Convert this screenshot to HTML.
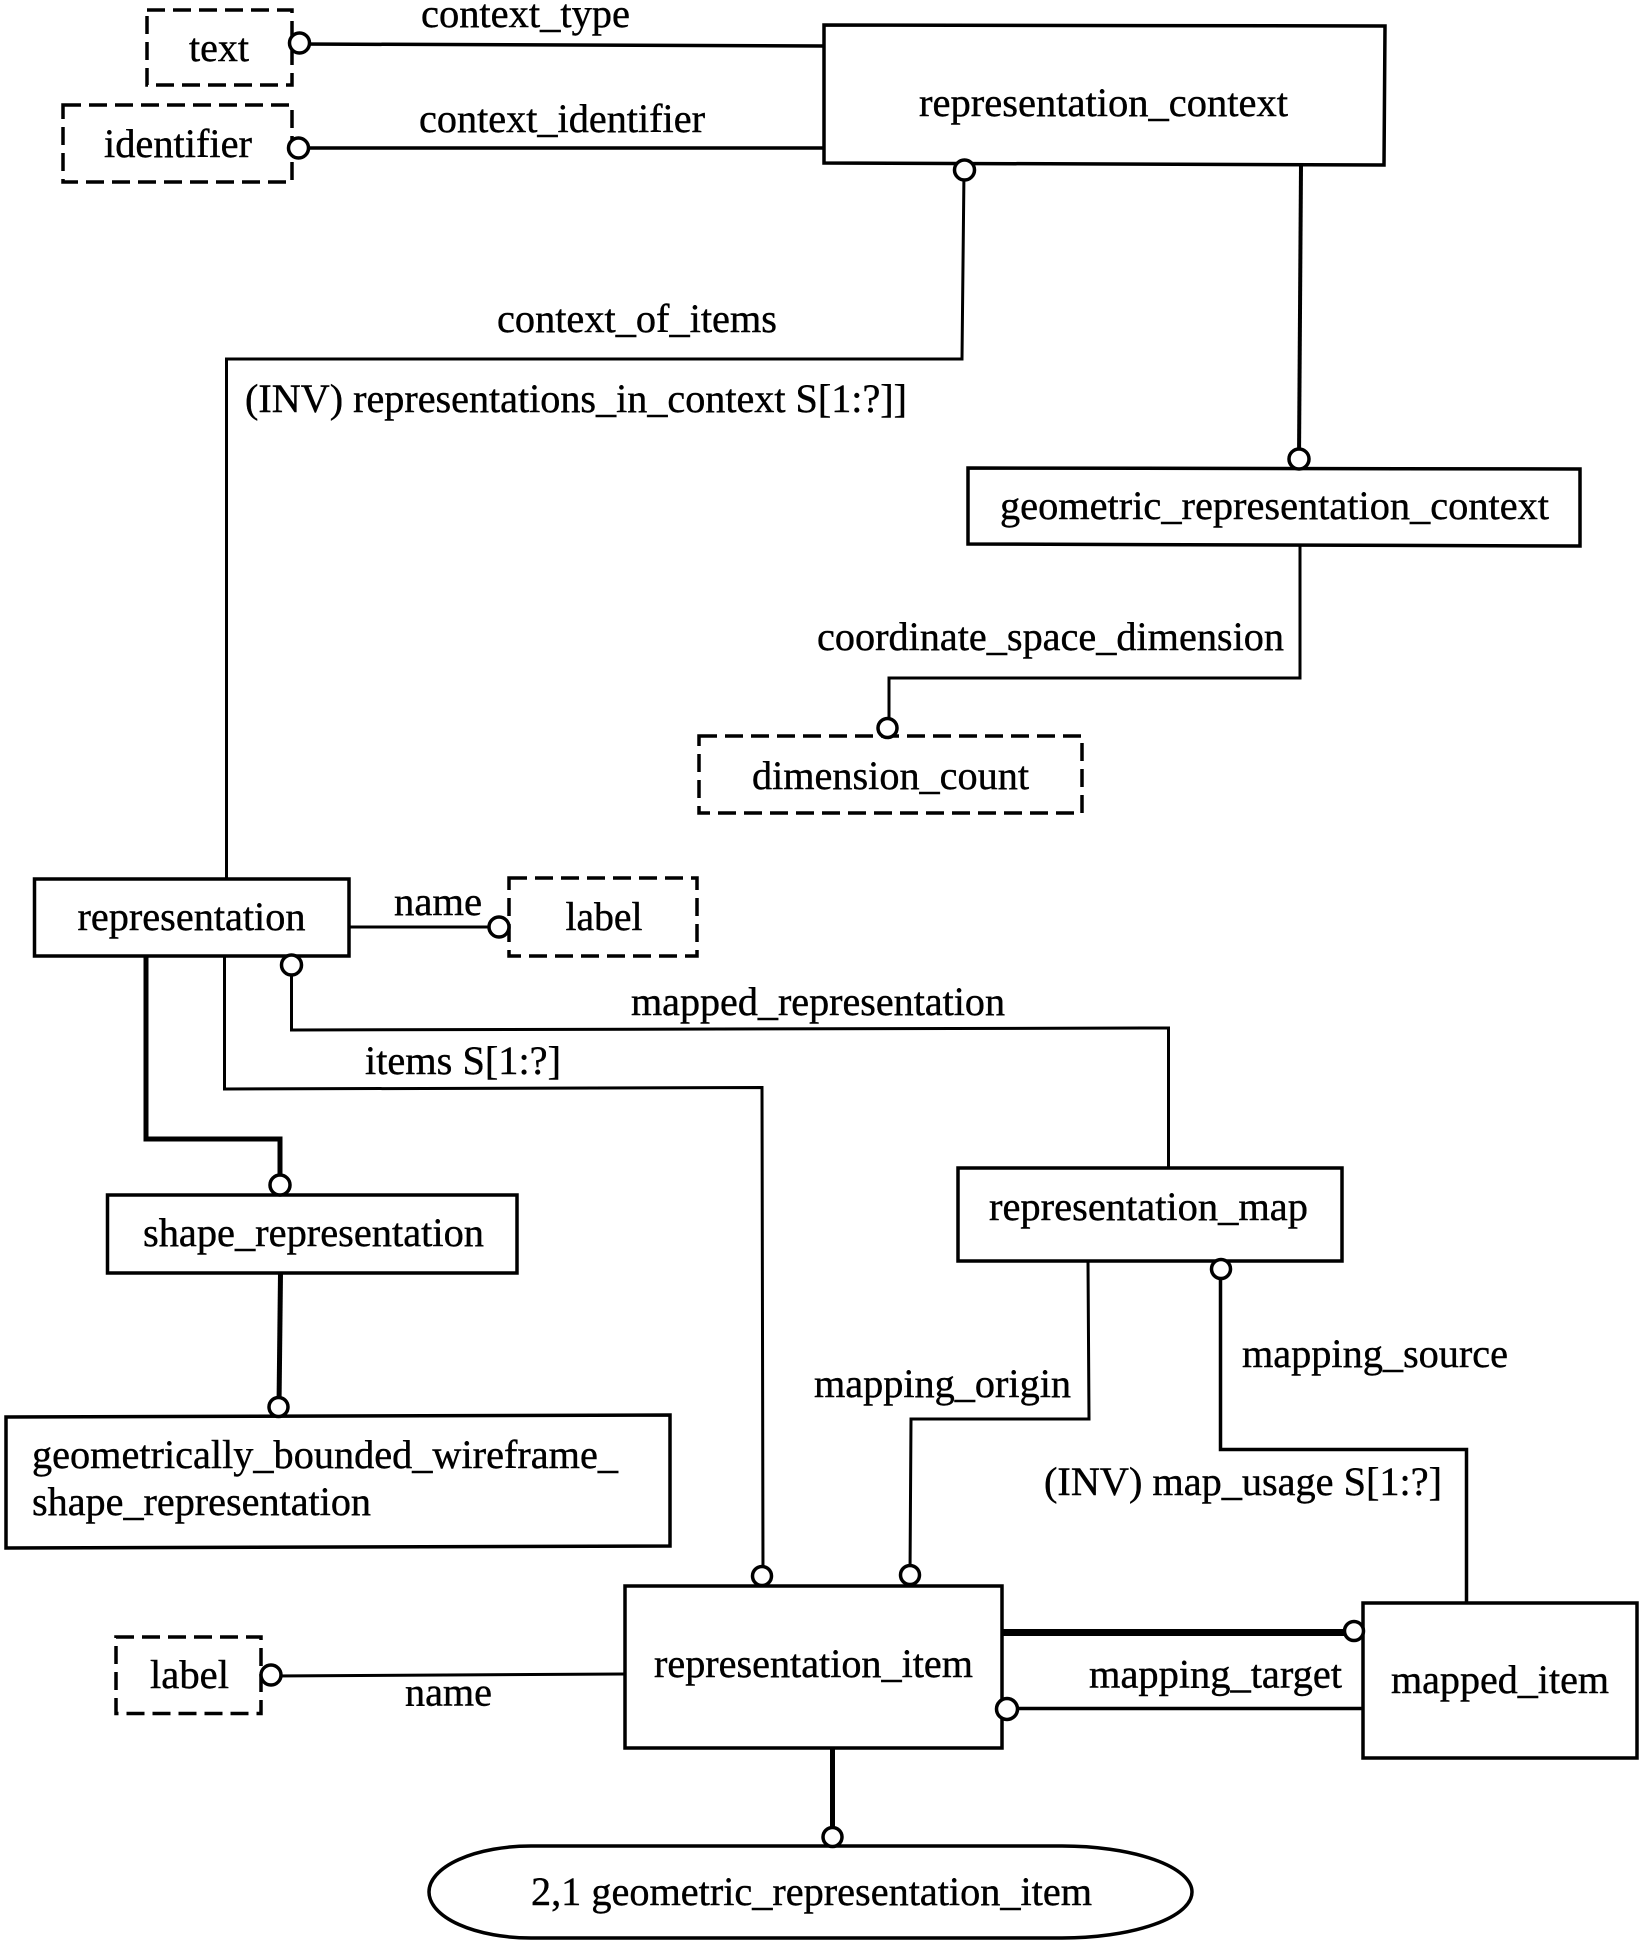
<!DOCTYPE html>
<html><head><meta charset="utf-8"><style>
html,body{margin:0;padding:0;background:#fff}
svg{display:block}
text{font-family:"Liberation Serif",serif;font-size:40px;fill:#000;stroke:#000;stroke-width:.4}
.b{fill:#fff;stroke:#000;stroke-width:3.5}
.d{fill:#fff;stroke:#000;stroke-width:3.5;stroke-dasharray:18 8}
.l{fill:none;stroke:#000;stroke-width:3}
.t{fill:none;stroke:#000;stroke-width:5}
.c{fill:#fff;stroke:#000;stroke-width:3.5}
</style></head><body>
<svg width="1642" height="1942" viewBox="0 0 1642 1942" xmlns="http://www.w3.org/2000/svg">
<rect width="1642" height="1942" fill="#fff"/>
<!-- connectors -->
<path class="l" style="stroke-width:3.5" d="M299 44 L824 46"/>
<path class="l" style="stroke-width:3.5" d="M299 148 H824"/>
<path class="l" d="M964 170 L962 359 H226.5 V879"/>
<path class="l" style="stroke-width:4" d="M1301 165 L1299 459"/>
<path class="l" d="M1300 545 V678 H889 V728"/>
<path class="l" d="M349 927 H499"/>
<path class="l" d="M291.5 965 V1030 L1168.5 1028 V1168"/>
<path class="l" d="M224.5 956 V1089 L762 1087.5 L763 1576"/>
<path class="t" d="M146 956 V1139 H280 V1185"/>
<path class="t" d="M280.5 1273 L279 1407"/>
<path class="l" d="M271 1676 L625 1674"/>
<path class="l" d="M1088 1261 L1089 1419 H911 L910 1576"/>
<path class="l" style="stroke-width:3.5" d="M1220.5 1269 V1449.5 H1466.5 V1603"/>
<path class="t" d="M832.5 1748 V1838"/>
<path class="t" style="stroke-width:7" d="M1001 1632.5 H1354"/>
<path class="l" style="stroke-width:3.5" d="M1007 1708.5 H1363"/>
<!-- boxes -->
<rect class="d" x="147" y="10" width="145" height="75"/>
<rect class="d" x="63" y="105" width="229" height="77"/>
<polygon class="b" points="824,25 1385,26 1384,165 824,163"/>
<polygon class="b" points="968,468 1580,469 1580,546 968,544"/>
<rect class="d" x="699" y="736" width="383" height="77"/>
<rect class="b" x="34.5" y="879" width="314.5" height="77"/>
<rect class="d" x="509" y="878" width="188" height="78"/>
<rect class="b" x="107.5" y="1195" width="409.5" height="78"/>
<polygon class="b" points="6,1417 670,1415 670,1546 6,1548"/>
<rect class="b" x="958" y="1168" width="384" height="93"/>
<rect class="b" x="625" y="1586" width="377" height="162"/>
<rect class="d" x="116" y="1637" width="145" height="76.5"/>
<rect class="b" x="1363" y="1603" width="274" height="155"/>
<path class="b" d="M531 1846 H1062 A130 46 0 0 1 1062 1938 H531 A102 46 0 0 1 531 1846 Z"/>
<!-- circles -->
<circle class="c" cx="299.5" cy="43" r="10"/>
<circle class="c" cx="298.5" cy="148" r="10"/>
<circle class="c" cx="964.5" cy="170" r="10"/>
<circle class="c" cx="1299" cy="459" r="10"/>
<circle class="c" cx="887.5" cy="728" r="9.5"/>
<circle class="c" cx="499" cy="927" r="10"/>
<circle class="c" cx="291.5" cy="965" r="10"/>
<circle class="c" cx="280" cy="1185" r="10"/>
<circle class="c" cx="278.5" cy="1407" r="9.5"/>
<circle class="c" cx="762" cy="1576" r="9.5"/>
<circle class="c" cx="910" cy="1575" r="9.5"/>
<circle class="c" cx="1221" cy="1269" r="9.5"/>
<circle class="c" cx="271" cy="1675" r="10"/>
<circle class="c" cx="832.5" cy="1837" r="9.5"/>
<circle class="c" cx="1354" cy="1631" r="9.5"/>
<circle class="c" cx="1007" cy="1709" r="10.5"/>
<!-- labels -->
<text x="421" y="27" textLength="209" lengthAdjust="spacingAndGlyphs">context_type</text>
<text x="419" y="132" textLength="286" lengthAdjust="spacingAndGlyphs">context_identifier</text>
<text x="189" y="61" textLength="60" lengthAdjust="spacingAndGlyphs">text</text>
<text x="104" y="157" textLength="148" lengthAdjust="spacingAndGlyphs">identifier</text>
<text x="497" y="332" textLength="280" lengthAdjust="spacingAndGlyphs">context_of_items</text>
<text x="245" y="412" textLength="662" lengthAdjust="spacingAndGlyphs">(INV) representations_in_context S[1:?]]</text>
<text x="919" y="116" textLength="369" lengthAdjust="spacingAndGlyphs">representation_context</text>
<text x="1000" y="519" textLength="549" lengthAdjust="spacingAndGlyphs">geometric_representation_context</text>
<text x="817" y="650" textLength="467" lengthAdjust="spacingAndGlyphs">coordinate_space_dimension</text>
<text x="752" y="789" textLength="277" lengthAdjust="spacingAndGlyphs">dimension_count</text>
<text x="77.5" y="930" textLength="228" lengthAdjust="spacingAndGlyphs">representation</text>
<text x="394" y="915" textLength="88" lengthAdjust="spacingAndGlyphs">name</text>
<text x="565.5" y="930" textLength="77" lengthAdjust="spacingAndGlyphs">label</text>
<text x="631" y="1015" textLength="374" lengthAdjust="spacingAndGlyphs">mapped_representation</text>
<text x="365" y="1074" textLength="196" lengthAdjust="spacingAndGlyphs">items S[1:?]</text>
<text x="143" y="1246" textLength="341" lengthAdjust="spacingAndGlyphs">shape_representation</text>
<text x="989" y="1220" textLength="319" lengthAdjust="spacingAndGlyphs">representation_map</text>
<text x="814" y="1397" textLength="257" lengthAdjust="spacingAndGlyphs">mapping_origin</text>
<text x="1242" y="1367" textLength="266" lengthAdjust="spacingAndGlyphs">mapping_source</text>
<text x="1044" y="1495" textLength="398" lengthAdjust="spacingAndGlyphs">(INV) map_usage S[1:?]</text>
<text x="32" y="1468" textLength="586" lengthAdjust="spacingAndGlyphs">geometrically_bounded_wireframe_</text>
<text x="32" y="1515" textLength="339" lengthAdjust="spacingAndGlyphs">shape_representation</text>
<text x="654" y="1677" textLength="319" lengthAdjust="spacingAndGlyphs">representation_item</text>
<text x="150" y="1688" textLength="79" lengthAdjust="spacingAndGlyphs">label</text>
<text x="405" y="1705.5" textLength="87" lengthAdjust="spacingAndGlyphs">name</text>
<text x="1089" y="1687.5" textLength="253" lengthAdjust="spacingAndGlyphs">mapping_target</text>
<text x="1391" y="1693" textLength="218" lengthAdjust="spacingAndGlyphs">mapped_item</text>
<text x="531" y="1905" textLength="561" lengthAdjust="spacingAndGlyphs">2,1 geometric_representation_item</text>
</svg>
</body></html>
